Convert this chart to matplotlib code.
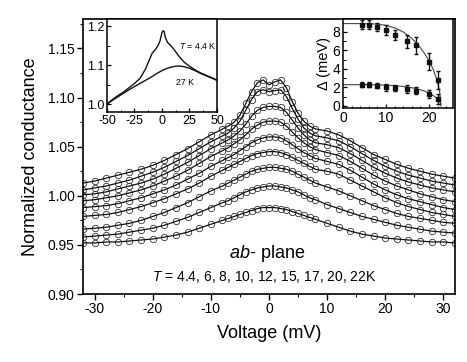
import matplotlib
matplotlib.use("Agg")
import matplotlib.pyplot as plt
from matplotlib.ticker import MultipleLocator

plt.rcParams['font.family'] = ['Liberation Sans', 'DejaVu Sans']
plt.rcParams['mathtext.fontset'] = 'custom'
plt.rcParams['mathtext.rm'] = 'Liberation Sans'
plt.rcParams['mathtext.it'] = 'Liberation Sans:italic'
plt.rcParams['axes.unicode_minus'] = False

# ---------------- main panel data ----------------
voltage = [-32, -30, -28, -26, -24, -22, -20, -18, -16, -14, -12, -10,
           -8, -7, -6, -5, -4, -3, -2, -1, 0, 1, 2, 3, 4, 5, 6, 7, 8,
           10, 12, 14, 16, 18, 20, 22, 24, 26, 28, 30, 32]

g_4p4K = [1.013, 1.015, 1.018, 1.021, 1.024, 1.027, 1.031, 1.036, 1.042, 1.048, 1.055, 1.062,
          1.068, 1.071, 1.075, 1.082, 1.094, 1.106, 1.115, 1.118, 1.113, 1.116, 1.118, 1.110, 1.096, 1.084, 1.076, 1.071, 1.068,
          1.066, 1.062, 1.056, 1.049, 1.042, 1.037, 1.032, 1.028, 1.025, 1.022, 1.020, 1.018]
g_6K = [1.006, 1.008, 1.010, 1.013, 1.016, 1.020, 1.024, 1.029, 1.035, 1.041, 1.048, 1.055,
        1.061, 1.064, 1.069, 1.076, 1.087, 1.098, 1.106, 1.108, 1.106, 1.107, 1.108, 1.101, 1.089, 1.078, 1.069, 1.064, 1.061,
        1.059, 1.056, 1.050, 1.043, 1.036, 1.030, 1.025, 1.021, 1.018, 1.015, 1.013, 1.011]
g_8K = [1.001, 1.002, 1.004, 1.007, 1.010, 1.013, 1.017, 1.022, 1.028, 1.034, 1.041, 1.048,
        1.054, 1.057, 1.061, 1.066, 1.073, 1.081, 1.087, 1.090, 1.091, 1.091, 1.090, 1.085, 1.077, 1.069, 1.062, 1.057, 1.054,
        1.052, 1.049, 1.043, 1.036, 1.029, 1.023, 1.018, 1.014, 1.011, 1.008, 1.006, 1.004]
g_10K = [0.995, 0.996, 0.998, 1.000, 1.003, 1.006, 1.010, 1.015, 1.020, 1.026, 1.033, 1.040,
         1.046, 1.049, 1.053, 1.057, 1.062, 1.068, 1.072, 1.075, 1.076, 1.076, 1.075, 1.071, 1.065, 1.059, 1.054, 1.050, 1.047,
         1.044, 1.041, 1.035, 1.028, 1.021, 1.015, 1.010, 1.006, 1.002, 0.999, 0.996, 0.994]
g_12K = [0.988, 0.989, 0.990, 0.992, 0.995, 0.998, 1.002, 1.006, 1.011, 1.017, 1.023, 1.030,
         1.036, 1.039, 1.042, 1.046, 1.050, 1.054, 1.057, 1.059, 1.060, 1.060, 1.059, 1.056, 1.052, 1.048, 1.044, 1.041, 1.038,
         1.035, 1.032, 1.026, 1.019, 1.012, 1.006, 1.001, 0.997, 0.994, 0.991, 0.988, 0.986]
g_15K = [0.979, 0.980, 0.981, 0.983, 0.986, 0.989, 0.993, 0.997, 1.002, 1.007, 1.013, 1.020,
         1.026, 1.029, 1.032, 1.035, 1.038, 1.041, 1.043, 1.044, 1.045, 1.045, 1.044, 1.042, 1.039, 1.036, 1.033, 1.030, 1.027,
         1.025, 1.022, 1.016, 1.010, 1.004, 0.998, 0.993, 0.989, 0.986, 0.983, 0.981, 0.979]
g_17K = [0.966, 0.967, 0.968, 0.970, 0.972, 0.975, 0.979, 0.983, 0.988, 0.993, 0.999, 1.005,
         1.010, 1.013, 1.016, 1.019, 1.022, 1.025, 1.027, 1.028, 1.029, 1.029, 1.028, 1.027, 1.025, 1.022, 1.019, 1.016, 1.013,
         1.009, 1.005, 1.000, 0.995, 0.990, 0.986, 0.982, 0.979, 0.977, 0.975, 0.973, 0.972]
g_20K = [0.958, 0.959, 0.960, 0.961, 0.963, 0.965, 0.967, 0.970, 0.974, 0.978, 0.983, 0.988,
         0.993, 0.995, 0.998, 1.001, 1.004, 1.006, 1.008, 1.009, 1.010, 1.010, 1.009, 1.008, 1.006, 1.004, 1.001, 0.998, 0.996,
         0.991, 0.987, 0.983, 0.979, 0.976, 0.973, 0.970, 0.968, 0.966, 0.964, 0.963, 0.962]
g_22K = [0.952, 0.952, 0.953, 0.953, 0.954, 0.955, 0.956, 0.958, 0.960, 0.963, 0.967, 0.971,
         0.975, 0.977, 0.979, 0.981, 0.983, 0.985, 0.987, 0.988, 0.988, 0.988, 0.987, 0.986, 0.984, 0.982, 0.980, 0.978, 0.976,
         0.972, 0.968, 0.964, 0.961, 0.959, 0.957, 0.956, 0.955, 0.954, 0.953, 0.953, 0.952]

curves = [g_4p4K, g_6K, g_8K, g_10K, g_12K, g_15K, g_17K, g_20K, g_22K]

# ---------------- inset 1 data ----------------
v_in_4p4 = [-50, -45, -40, -35, -30, -25, -20, -15, -12, -9, -6, -4, -2, 0, 1, 2, 3, 5, 8, 11,
            15, 20, 25, 30, 35, 40, 45, 50]
g_in_4p4 = [1.000, 1.012, 1.022, 1.031, 1.042, 1.053, 1.066, 1.090, 1.110, 1.130, 1.140, 1.148,
            1.160, 1.183, 1.188, 1.186, 1.172, 1.158, 1.150, 1.140, 1.124, 1.108, 1.097, 1.088,
            1.080, 1.074, 1.068, 1.062]
v_in_27 = [-50, -45, -40, -35, -30, -25, -20, -15, -10, -5, 0, 5, 10, 15, 20, 25, 30, 35, 40, 45, 50]
g_in_27 = [1.000, 1.010, 1.019, 1.028, 1.037, 1.045, 1.053, 1.061, 1.069, 1.078, 1.086, 1.092,
           1.096, 1.098, 1.096, 1.092, 1.086, 1.079, 1.073, 1.067, 1.061]

# ---------------- inset 2 data ----------------
temps = [4.4, 6, 8, 10, 12, 15, 17, 20, 22]
gap_large = [8.8, 8.8, 8.55, 8.2, 7.7, 7.0, 6.55, 4.8, 2.8]
gap_large_err = [0.45, 0.45, 0.45, 0.5, 0.55, 0.7, 0.9, 0.95, 0.95]
gap_small = [2.3, 2.3, 2.2, 2.0, 1.95, 1.85, 1.65, 1.3, 0.75]
gap_small_err = [0.3, 0.3, 0.3, 0.35, 0.35, 0.4, 0.4, 0.4, 0.5]
fit_t = [0, 4, 8, 10, 12, 14, 16, 17, 18, 19, 20, 21, 22, 22.5, 22.8]
fit_large = [8.9, 8.9, 8.85, 8.7, 8.45, 8.0, 7.3, 6.85, 6.3, 5.65, 4.9, 3.95, 2.6, 1.5, 0.0]
fit_small = [2.3, 2.3, 2.28, 2.25, 2.2, 2.1, 1.97, 1.88, 1.76, 1.6, 1.38, 1.12, 0.78, 0.5, 0.2]

# ---------------- figure ----------------
fig = plt.figure(figsize=(4.67, 3.62), dpi=100)
ax = fig.add_axes([0.1777, 0.1878, 0.7966, 0.7597])

for g in curves:
    ax.plot(voltage, g, linestyle='none', marker='o', markersize=4.6,
            markerfacecolor='none', markeredgecolor='#333333', markeredgewidth=0.6, zorder=2)
    ax.plot(voltage, g, color='#111111', lw=0.9, zorder=3)

ax.set_xlim(-32, 32)
ax.set_ylim(0.90, 1.18)
ax.set_xticks([-30, -20, -10, 0, 10, 20, 30])
ax.set_yticks([0.90, 0.95, 1.00, 1.05, 1.10, 1.15])
ax.xaxis.set_minor_locator(MultipleLocator(5))
ax.yaxis.set_minor_locator(MultipleLocator(0.025))
ax.tick_params(which='major', direction='out', length=4, width=1.0, labelsize=10, pad=2)
ax.tick_params(which='minor', direction='out', length=2.5, width=0.8)
ax.tick_params(top=False, right=False)
for s in ax.spines.values():
    s.set_linewidth(1.2)
ax.set_xlabel('Voltage (mV)', fontsize=13, labelpad=6)
ax.set_ylabel('Normalized conductance', fontsize=13, labelpad=6)

ax.text(-0.26, 0.9367, r'$\it{ab}$- plane', fontsize=13, ha='center', va='baseline')
ax.text(-0.8, 0.9133, r'$\it{T}$ = 4.4, 6, 8, 10, 12, 15, 17, 20, 22K', fontsize=10,
        ha='center', va='baseline')

# inset 1
ax1 = fig.add_axes([0.2291, 0.6906, 0.2355, 0.2569])
ax1.plot(v_in_4p4, g_in_4p4, color='#111111', lw=1.0)
ax1.plot(v_in_27, g_in_27, color='#111111', lw=1.0)
ax1.set_xlim(-50, 50)
ax1.set_ylim(0.98, 1.218)
ax1.set_xticks([-50, -25, 0, 25, 50])
ax1.set_yticks([1.0, 1.1, 1.2])
ax1.set_yticklabels(['1.0', '1.1', '1.2'])
ax1.xaxis.set_minor_locator(MultipleLocator(12.5))
ax1.yaxis.set_minor_locator(MultipleLocator(0.05))
ax1.tick_params(which='major', direction='in', length=3, width=0.9, labelsize=9, pad=2)
ax1.tick_params(which='minor', direction='in', length=1.8, width=0.7)
for s in ax1.spines.values():
    s.set_linewidth(1.1)
ax1.text(33, 1.15, r'$\it{T}$ = 4.4 K', fontsize=6.3, ha='center', va='center')
ax1.text(21, 1.055, '27 K', fontsize=6.3, ha='center', va='center')

# inset 2
ax2 = fig.add_axes([0.7345, 0.7017, 0.2355, 0.2459])
ax2.plot(fit_t, fit_large, color='#444444', lw=0.8)
ax2.plot(fit_t, fit_small, color='#444444', lw=0.8)
ax2.errorbar(temps, gap_large, yerr=gap_large_err, fmt='s', color='#111111', markersize=3.5,
             elinewidth=1.0, capsize=1.5, capthick=1.0)
ax2.errorbar(temps, gap_small, yerr=gap_small_err, fmt='s', color='#111111', markersize=3.5,
             elinewidth=1.0, capsize=1.5, capthick=1.0)
ax2.set_xlim(0, 25.6)
ax2.set_ylim(-0.22, 9.4)
ax2.set_xticks([0, 10, 20])
ax2.set_yticks([0, 2, 4, 6, 8])
ax2.xaxis.set_minor_locator(MultipleLocator(2))
ax2.yaxis.set_minor_locator(MultipleLocator(1))
ax2.tick_params(which='major', direction='in', length=3, width=0.9, labelsize=10, pad=2)
ax2.tick_params(which='minor', direction='in', length=1.8, width=0.7)
for s in ax2.spines.values():
    s.set_linewidth(1.1)
ax2.set_ylabel('\u0394 (meV)', fontsize=10.5, labelpad=1)

fig.savefig('out.png', dpi=100)
